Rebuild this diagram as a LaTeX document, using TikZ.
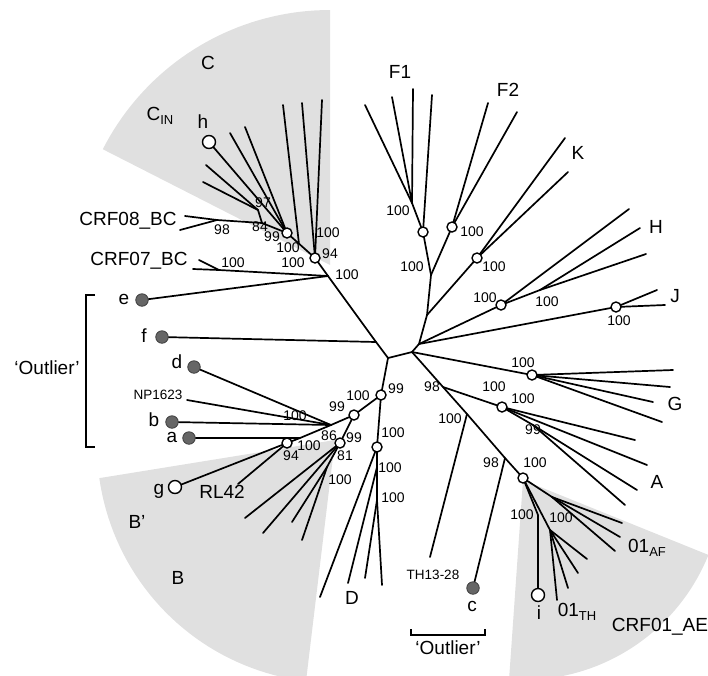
\documentclass[tikz,border=0pt]{standalone}
\usepackage{fontspec}
\setmainfont{Liberation Sans}
\newcommand{\sbs}[1]{\raisebox{-4pt}{\fontsize{13}{13}\selectfont #1}}
\begin{document}
\begin{tikzpicture}[x=1pt,y=-1pt,
  br/.style={line width=1.7pt, line cap=round},
  onode/.style={circle, draw, line width=1.4pt, fill=white, inner sep=0pt, minimum size=10pt},
  bignode/.style={onode, minimum size=13pt},
  fnode/.style={circle, draw=black!75, fill=black!60, line width=0.8pt, inner sep=0pt, minimum size=12.5pt},
  lab/.style={font=\fontsize{19}{19}\selectfont, inner sep=0pt},
  num/.style={font=\fontsize{14}{14}\selectfont, inner sep=0pt},
  sm/.style={font=\fontsize{13.5}{13.5}\selectfont, inner sep=0pt},
  shadearea/.style={fill=black!12, draw=none},
  brk/.style={line width=1.4pt}]
\useasboundingbox (0,0) rectangle (708,675);
% shaded clade areas
\fill[shadearea] (330,265) -- plot[domain=90:153, samples=40] ({330+255*cos(\x)},{265-255*sin(\x)}) -- cycle;
\fill[shadearea] (335,440) -- plot[domain=188:263, samples=40] ({335+238*cos(\x)},{445-238*sin(\x)}) -- cycle;
\fill[shadearea] (523,480) -- plot[domain=-94:-22, samples=40] ({523+200*cos(\x)},{480-200*sin(\x)}) -- cycle;
% internal points
\coordinate (R0) at (388,358);
\coordinate (R1) at (412,352);
\coordinate (R2) at (419,344);
\coordinate (U1) at (427,315);
\coordinate (U2) at (431,275);
\coordinate (F1) at (423,232);
\coordinate (F1a) at (412,203);
\coordinate (F2) at (452,227);
\coordinate (K) at (477,258);
\coordinate (H) at (501,305);
\coordinate (Hs) at (540,290);
\coordinate (J) at (616,307);
\coordinate (G) at (532,375);
\coordinate (Aj) at (443,387);
\coordinate (A) at (502,407);
\coordinate (As) at (533,425);
\coordinate (Tj) at (467,414);
\coordinate (cj) at (505,458);
\coordinate (AE) at (523,478);
\coordinate (Cf) at (552,497);
\coordinate (Ci) at (538,515);
\coordinate (Cs) at (550,530);
\coordinate (C2) at (315,258);
\coordinate (C1) at (287,233);
\coordinate (C97) at (258,210);
\coordinate (C84) at (262,223);
\coordinate (C8j) at (217,220);
\coordinate (Cx) at (299,244);
\coordinate (Ce) at (328,276);
\coordinate (C7j) at (219,270);
\coordinate (fj) at (376,342);
\coordinate (N99) at (381,395);
\coordinate (N100) at (354,415);
\coordinate (Jo) at (331,425);
\coordinate (aj) at (300,438);
\coordinate (N94) at (287,443);
\coordinate (N81) at (340,443);
\coordinate (Nb) at (327,467);
\coordinate (Dn) at (377,447);
\coordinate (Da) at (377,467);
\coordinate (Db) at (377,500);
% leaves
\coordinate (lf1) at (365,105); \coordinate (lf2) at (392,97); \coordinate (lf3) at (413,89); \coordinate (lf4) at (432,95);
\coordinate (lf5) at (488,103); \coordinate (lf6) at (517,112);
\coordinate (lk1) at (565,138); \coordinate (lk2) at (568,172);
\coordinate (lh1) at (629,209); \coordinate (lh2) at (640,228); \coordinate (lh3) at (646,254);
\coordinate (lj1) at (657,290); \coordinate (lj2) at (665,305);
\coordinate (lg1) at (673,370); \coordinate (lg2) at (670,387); \coordinate (lg3) at (653,402); \coordinate (lg4) at (662,422);
\coordinate (la1) at (635,440); \coordinate (la2) at (647,465); \coordinate (la3) at (637,490); \coordinate (la4) at (625,505);
\coordinate (le1) at (622,523); \coordinate (le2) at (620,537); \coordinate (le3) at (615,551);
\coordinate (le4) at (587,559); \coordinate (le5) at (578,573); \coordinate (le6) at (568,588); \coordinate (le7) at (557,600);
\coordinate (ii) at (538,595);
\coordinate (lth) at (430,557);
\coordinate (cc) at (473,588);
\coordinate (ld1) at (320,597); \coordinate (ld2) at (348,583); \coordinate (ld3) at (365,578); \coordinate (ld4) at (382,585);
\coordinate (lb1) at (245,518); \coordinate (lb2) at (263,533); \coordinate (lb3) at (292,522); \coordinate (lb4) at (302,540);
\coordinate (gg) at (175,487); \coordinate (lrl) at (238,484);
\coordinate (aa) at (189,438); \coordinate (bb) at (172,422); \coordinate (lnp) at (187,400); \coordinate (dd) at (194,367);
\coordinate (ff) at (162,337); \coordinate (ee) at (142,300);
\coordinate (lc71) at (193,269); \coordinate (lc72) at (199,260);
\coordinate (lc81) at (185,216); \coordinate (lc82) at (180,230);
\coordinate (lc1) at (322,100); \coordinate (lc2) at (302,103); \coordinate (lc3) at (283,105);
\coordinate (hh) at (209,142); \coordinate (lc4) at (230,133); \coordinate (lc5) at (245,127);
\coordinate (lc6) at (206,165); \coordinate (lc7) at (203,182);
% branches
\draw[br] (C2) -- (Ce) -- (fj) -- (R0) -- (R1) -- (Aj) -- (Tj) -- (cj) -- (AE);
\draw[br] (R0) -- (N99) -- (N100) -- (Jo) -- (aj) -- (N94);
\draw[br] (N100) -- (N81); \draw[br] (N99) -- (Dn);
\draw[br] (R1) -- (R2) -- (U1) -- (U2);
\draw[br] (U1) -- (K); \draw[br] (U2) -- (F1); \draw[br] (U2) -- (F2);
\draw[br] (F1) -- (F1a);
\draw[br] (R2) -- (H); \draw[br] (R2) -- (J); \draw[br] (H) -- (Hs);
\draw[br] (R1) -- (G);
\draw[br] (Aj) -- (A) -- (As);
\draw[br] (F1a) -- (lf1); \draw[br] (F1a) -- (lf2); \draw[br] (F1a) -- (lf3); \draw[br] (F1) -- (lf4);
\draw[br] (F2) -- (lf5); \draw[br] (F2) -- (lf6);
\draw[br] (K) -- (lk1); \draw[br] (K) -- (lk2);
\draw[br] (H) -- (lh1); \draw[br] (Hs) -- (lh2); \draw[br] (Hs) -- (lh3);
\draw[br] (J) -- (lj1); \draw[br] (J) -- (lj2);
\draw[br] (G) -- (lg1); \draw[br] (G) -- (lg2); \draw[br] (G) -- (lg3); \draw[br] (G) -- (lg4);
\draw[br] (A) -- (la1); \draw[br] (A) -- (la2); \draw[br] (As) -- (la3); \draw[br] (As) -- (la4);
\draw[br] (AE) -- (Cf); \draw[br] (Cf) -- (le1); \draw[br] (Cf) -- (le2); \draw[br] (Cf) -- (le3);
\draw[br] (AE) -- (Ci) -- (ii);
\draw[br] (AE) -- (Cs); \draw[br] (Cs) -- (le4); \draw[br] (Cs) -- (le5); \draw[br] (Cs) -- (le6); \draw[br] (Cs) -- (le7);
\draw[br] (Tj) -- (lth);
\draw[br] (cj) -- (cc);
\draw[br] (Dn) -- (ld1); \draw[br] (Dn) -- (Da) -- (Db);
\draw[br] (Da) -- (ld2); \draw[br] (Db) -- (ld3); \draw[br] (Db) -- (ld4);
\draw[br] (N81) -- (lb1); \draw[br] (N81) -- (lb2); \draw[br] (N81) -- (Nb);
\draw[br] (Nb) -- (lb3); \draw[br] (Nb) -- (lb4);
\draw[br] (N94) -- (gg); \draw[br] (N94) -- (lrl); \draw[br] (aj) -- (aa);
\draw[br] (Jo) -- (bb); \draw[br] (Jo) -- (lnp); \draw[br] (Jo) -- (dd);
\draw[br] (fj) -- (ff); \draw[br] (Ce) -- (ee);
\draw[br] (Ce) -- (C7j); \draw[br] (C7j) -- (lc71); \draw[br] (C7j) -- (lc72);
\draw[br] (C2) -- (C1);
\draw[br] (C2) -- (lc1); \draw[br] (C2) -- (lc2); \draw[br] (Cx) -- (lc3);
\draw[br] (C1) -- (hh); \draw[br] (C1) -- (lc4); \draw[br] (C1) -- (lc5);
\draw[br] (C1) -- (C84) -- (C8j); \draw[br] (C84) -- (C97);
\draw[br] (C97) -- (lc6); \draw[br] (C97) -- (lc7);
\draw[br] (C8j) -- (lc81); \draw[br] (C8j) -- (lc82);
% node circles
\foreach \p in {F1,F2,K,H,J,G,A,AE,C1,C2,N99,N100,N94,N81,Dn}
  \node[onode] (c\p) at (\p) {};
\node[bignode] (hnode) at (hh) {};
\node[bignode] (gnode) at (gg) {};
\node[bignode] (inode) at (ii) {};
\foreach \p in {aa,bb,dd,ff,ee,cc}
  \node[fnode] (f\p) at (\p) {};
% brackets
\draw[brk] (95,295) -- (86,295) -- (86,447) -- (95,447);
\draw[brk] (411,629) -- (411,635) -- (485,635) -- (485,629);
% labels
\node[lab] (tC) at (208,63) {C};
\node[lab] (tCIN) at (160,116) {C\sbs{IN}};
\node[lab] (th) at (203,122) {h};
\node[lab] (tC8) at (128,221) {CRF08\_BC};
\node[lab] (tC7) at (139,261) {CRF07\_BC};
\node[lab] (te) at (124,299) {e};
\node[lab] (tf) at (144,336) {f};
\node[lab] (td) at (177,362) {d};
\node[sm] (tnp) at (158,395) {NP1623};
\node[lab] (tb) at (154,420) {b};
\node[lab] (ta) at (172,437) {a};
\node[lab] (tout) at (47,368) {‘Outlier’};
\node[lab] (tg) at (159,491) {g};
\node[lab] (trl) at (222,492) {RL42};
\node[lab] (tBp) at (137,522) {B’};
\node[lab] (tB) at (178,578) {B};
\node[lab] (tD) at (352,598) {D};
\node[sm] (tth) at (433,575) {TH13-28};
\node[lab] (tc) at (472,606) {c};
\node[lab] (tout2) at (448,648) {‘Outlier’};
\node[lab] (ti) at (539,613) {i};
\node[lab] (t01th) at (577,612) {01\sbs{TH}};
\node[lab] (tae) at (660,627) {CRF01\_AE};
\node[lab] (t01af) at (647,548) {01\sbs{AF}};
\node[lab] (tA) at (657,482) {A};
\node[lab] (tG) at (675,404) {G};
\node[lab] (tJ) at (675,296) {J};
\node[lab] (tH) at (656,227) {H};
\node[lab] (tK) at (578,153) {K};
\node[lab] (tF2) at (508,90) {F2};
\node[lab] (tF1) at (400,72) {F1};
% support values
\foreach \x/\y/\v [count=\i] in {263/203/97,222/230/98,260/227/84,272/237/99,288/248/100,293/263/100,328/233/100,330/254/94,347/275/100,233/263/100,398/211/100,412/267/100,472/232/100,494/267/100,485/298/100,547/302/100,619/321/100,523/363/100,432/387/98,494/387/100,523/399/100,533/430/99,450/419/100,491/463/98,535/463/100,396/389/99,522/515/100,561/518/100,390/468/100,393/498/100,358/396/100,337/407/99,295/416/100,329/436/86,354/438/99,345/456/81,309/446/100,291/456/94,393/433/100,340/480/100}
  \node[num] (s\i) at (\x,\y) {\v};
\end{tikzpicture}
\end{document}
